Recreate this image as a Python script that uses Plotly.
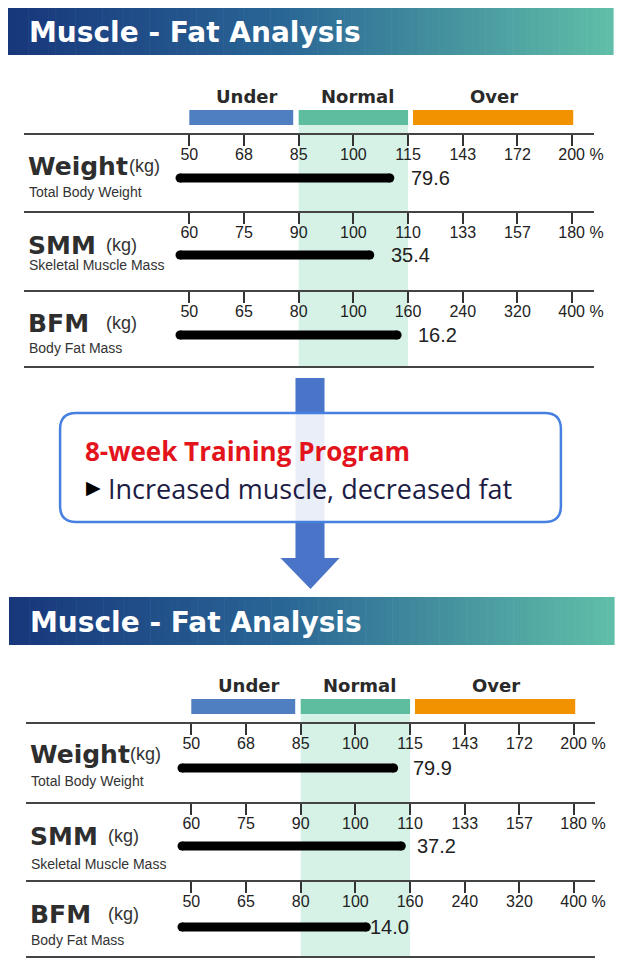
import numpy as np
import plotly.graph_objects as go

# ---------------- data ----------------
row_titles = ["Weight", "SMM", "BFM"]
row_subtitles = ["Total Body Weight", "Skeletal Muscle Mass", "Body Fat Mass"]
band_labels = ["Under", "Normal", "Over"]

weight_ticks = [50, 68, 85, 100, 115, 143, 172, 200]
smm_ticks = [60, 75, 90, 100, 110, 133, 157, 180]
bfm_ticks = [50, 65, 80, 100, 160, 240, 320, 400]

# kg values printed next to the bars, and the % of normal the bar reaches
before_kg = [79.6, 35.4, 16.2]
before_pct = [110, 103, 148]
after_kg = [79.9, 37.2, 14.0]
after_pct = [110.5, 108.4, 112]

header_text = "Muscle - Fat Analysis"
program_title = "8-week Training Program"
program_text = "Increased muscle, decreased fat"

# ---------------- layout helpers ----------------
W, H = 622, 976


def px(x):
    return x / W


def py(y):
    return 1 - y / H


ticks_all = [weight_ticks, smm_ticks, bfm_ticks]
BAR_START = -0.17   # bar starts a bit left of the first tick
SP = 54.6           # px between ticks

sections = [
    dict(header=(8, 612, 8, 55), leg_lab=97, leg=(110, 125), tick0=189,
         lines=[134, 212, 291], end=367, bars=[178, 255, 335],
         titles=[167, 246, 324], subs=[191, 264, 347], kgx=[128, 105, 105],
         gaps=[20, 20, 20], kg=before_kg, pct=before_pct, x0=24, x1=593),
    dict(header=(9, 613, 597, 645), leg_lab=685, leg=(699, 714), tick0=191,
         lines=[723, 803, 881], end=957, bars=[768, 846, 927],
         titles=[755, 837, 915], subs=[780, 863, 939], kgx=[129, 107, 107],
         gaps=[18, 15, 3], kg=after_kg, pct=after_pct, x0=26, x1=594),
]

fig = go.Figure()
shapes = []
annotations = []
axes = {}


def grad_color(t):
    stops = [(0.0, (24, 56, 124)), (0.45, (42, 102, 150)), (1.0, (96, 190, 168))]
    for (t0, c0), (t1, c1) in zip(stops[:-1], stops[1:]):
        if t <= t1:
            f = (t - t0) / (t1 - t0)
            return "rgb(%d,%d,%d)" % tuple(int(a + (b - a) * f) for a, b in zip(c0, c1))
    return "rgb(%d,%d,%d)" % stops[-1][1]


def note(text, x, y, size, color, family, xref="paper", xanchor="left", **kw):
    annotations.append(dict(text=text, xref=xref, yref="paper", x=x, y=y,
                            xanchor=xanchor, yanchor="middle", showarrow=False, borderpad=0,
                            font=dict(family=family, size=size, color=color), **kw))


for s, sec in enumerate(sections):
    # header bar with gradient
    hx0, hx1, hy0, hy1 = sec["header"]
    n = 90
    for i in range(n):
        xa = hx0 + (hx1 - hx0) * i / n
        xb = hx0 + (hx1 - hx0) * (i + 1) / n + 0.6
        shapes.append(dict(type="rect", xref="paper", yref="paper",
                           x0=px(xa), x1=px(xb), y0=py(hy1), y1=py(hy0),
                           fillcolor=grad_color(i / (n - 1)), line=dict(width=0), layer="below"))
    note("<b>" + header_text + "</b>", px(hx0 + 20), py((hy0 + hy1) / 2 + 1), 28, "white", "DejaVu Sans")

    first_ax = "x" if s == 0 else "x%d" % (s * 3 + 1)

    # Under / Normal / Over legend bars
    leg_spans = [(0, 1.9), (2.0, 4.0), (4.09, 7.02)]
    leg_colors = ["#4f7fc1", "#5ebd9f", "#f39200"]
    leg_centers = [1.06, 3.08, 5.57]
    for (a, b), c, lab, cx in zip(leg_spans, leg_colors, band_labels, leg_centers):
        shapes.append(dict(type="rect", xref=first_ax, yref="paper", x0=a, x1=b,
                           y0=py(sec["leg"][1]), y1=py(sec["leg"][0]),
                           fillcolor=c, line=dict(width=0)))
        note("<b>" + lab + "</b>", cx, py(sec["leg_lab"]), 18, "#2a2a2a", "DejaVu Sans",
             xref=first_ax, xanchor="center")

    # normal range band
    shapes.append(dict(type="rect", xref=first_ax, yref="paper", x0=2, x1=4,
                       y0=py(sec["end"]), y1=py(sec["leg"][1]),
                       fillcolor="#d6f2e7", line=dict(width=0), layer="below"))

    # closing line of the section
    shapes.append(dict(type="line", xref="paper", yref="paper",
                       x0=px(sec["x0"]), x1=px(sec["x1"]), y0=py(sec["end"]), y1=py(sec["end"]),
                       line=dict(color="#444", width=2)))

    for r in range(3):
        k = s * 3 + r + 1
        xname = "x" if k == 1 else "x%d" % k
        lname = "xaxis" if k == 1 else "xaxis%d" % k
        ticks = ticks_all[r]
        texts = [str(t) for t in ticks]
        texts[-1] = "\u00a0\u00a0\u00a0\u00a0" + texts[-1] + " %"
        lo = (sec["x0"] - sec["tick0"]) / SP
        hi = (sec["x1"] - sec["tick0"]) / SP
        axes[lname] = dict(domain=[px(sec["x0"]), px(sec["x1"])], range=[lo, hi],
                           anchor="free", position=py(sec["lines"][r]), side="bottom",
                           tickvals=list(range(8)), ticktext=texts, ticks="outside",
                           ticklen=11, tickwidth=1.5, tickcolor="#333",
                           ticklabelstandoff=-5,
                           showline=True, linecolor="#444", linewidth=2,
                           showgrid=False, zeroline=False, fixedrange=True,
                           tickfont=dict(family="Liberation Sans", size=16, color="#222"))

        end_idx = float(np.interp(sec["pct"][r], ticks, np.arange(8)))
        by = sec["bars"][r]
        fig.add_trace(go.Scatter(x=[BAR_START, end_idx], y=[by, by], mode="lines+markers",
                                 line=dict(color="black", width=9),
                                 marker=dict(size=9, color="black"),
                                 xaxis=xname, yaxis="y", hoverinfo="skip", showlegend=False))
        note("%.1f" % sec["kg"][r], end_idx, py(by), 20, "#222", "Liberation Sans",
             xref=xname, xshift=sec["gaps"][r])

        # row titles
        note("<b>" + row_titles[r] + "</b>", px(sec["x0"] + 3), py(sec["titles"][r] - 1), 25,
             "#2e2e2e", "DejaVu Sans")
        note("(kg)", px(sec["kgx"][r]), py(sec["titles"][r] - 1), 18, "#333", "Liberation Sans")
        note(row_subtitles[r], px(sec["x0"] + 4), py(sec["subs"][r] + 1), 14, "#333",
             "Liberation Sans")

# ---------------- middle arrow and program box ----------------
arrow_col = "#4a74c8"
shapes.append(dict(type="rect", xref="paper", yref="paper", x0=px(295), x1=px(324),
                   y0=py(560), y1=py(378), fillcolor=arrow_col, line=dict(width=0)))
shapes.append(dict(type="path", xref="paper", yref="paper",
                   path="M %f %f L %f %f L %f %f Z" % (px(280), py(558), px(339), py(558), px(310), py(589)),
                   fillcolor=arrow_col, line=dict(width=0)))

bx0, bx1, by0, by1, rr = 60, 560, 413, 522, 16
path = ("M {a} {b} L {c} {b} Q {x1} {b} {x1} {d} L {x1} {e} Q {x1} {y1} {c} {y1} "
        "L {a} {y1} Q {x0} {y1} {x0} {e} L {x0} {d} Q {x0} {b} {a} {b} Z").format(
    a=px(bx0 + rr), c=px(bx1 - rr), b=py(by0), d=py(by0 + rr), e=py(by1 - rr),
    x0=px(bx0), x1=px(bx1), y1=py(by1))
shapes.append(dict(type="path", xref="paper", yref="paper", path=path,
                   fillcolor="rgba(255,255,255,0.88)", line=dict(color="#4680e0", width=2.5)))

note("<b>" + program_title + "</b>", px(84), py(451), 26, "#e3141c", "Open Sans")
note("\u25b6", px(85), py(487), 19, "black", "DejaVu Sans")
note(program_text, px(107), py(488), 27, "#1c1c44", "Open Sans")

fig.update_layout(
    width=633, height=H,
    margin=dict(l=0, r=0, t=0, b=0),
    paper_bgcolor="white", plot_bgcolor="rgba(0,0,0,0)",
    yaxis=dict(domain=[0, 1], range=[H, 0], visible=False, fixedrange=True),
    shapes=shapes, annotations=annotations, showlegend=False,
    **axes,
)

fig.write_html("out.html", config={"displayModeBar": False},
               post_script="document.body.style.margin='0px';"
                           "document.body.style.overflow='hidden';"
                           "document.documentElement.style.overflow='hidden';")
